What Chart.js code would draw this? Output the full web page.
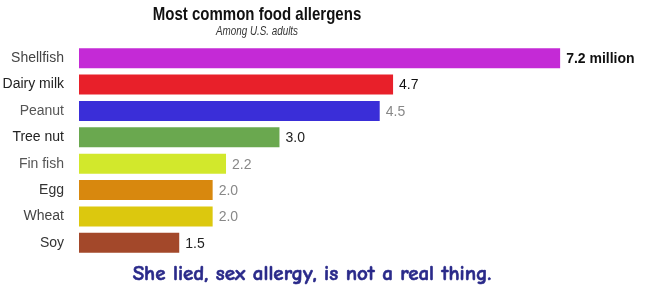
<!DOCTYPE html>
<html>
<head>
<meta charset="utf-8">
<script src="https://cdn.jsdelivr.net/npm/chart.js@4/dist/chart.umd.min.js"></script>
<style>
  html, body { margin: 0; padding: 0; background: #fff; }
  #wrap { position: relative; width: 648px; height: 288px; overflow: hidden; }
  #c { position: absolute; left: 0; top: 0; }
  .title { position: absolute; left: 0; width: 514px; text-align: center; top: 3px;
    font-family: "Liberation Sans", Arial, sans-serif; font-weight: bold;
    font-size: 19px; color: #111; transform: scaleX(0.79); transform-origin: 257px 0; }
  .sub { position: absolute; left: 0; width: 514px; text-align: center; top: 24px;
    font-family: "Liberation Sans", Arial, sans-serif; font-style: italic;
    font-size: 12px; color: #333; transform: scaleX(0.82); transform-origin: 257px 0; }
  .caption { position: absolute; left: 0; width: 624px; text-align: center; top: 261px;
    font-family: "Comic Sans MS", "Comic Neue", "DejaVu Sans", sans-serif; font-weight: 700;
    font-size: 21px; color: #2a2a8a; -webkit-text-stroke: 0.6px #2a2a8a; }
</style>
</head>
<body>
<div id="wrap">
  <canvas id="c" width="648" height="288"></canvas>
  <div class="title">Most common food allergens</div>
  <div class="sub">Among U.S. adults</div>
  <div class="caption">She lied, sex allergy, is not a real thing.</div>
</div>
<script>
const categories = ["Shellfish", "Dairy milk", "Peanut", "Tree nut", "Fin fish", "Egg", "Wheat", "Soy"];
const values = [7.2, 4.7, 4.5, 3.0, 2.2, 2.0, 2.0, 1.5];
const valueLabels = ["7.2 million", "4.7", "4.5", "3.0", "2.2", "2.0", "2.0", "1.5"];

const barColors = ["#c42ad6", "#e8202a", "#3a2ed8", "#6aa84f", "#d2e82c", "#d8880e", "#dcc80e", "#a3482a"];
const valueColors = ["#111", "#111", "#888", "#222", "#888", "#888", "#888", "#222"];
const tickColors = ["#444", "#222", "#555", "#222", "#555", "#333", "#444", "#333"];

const valueLabelPlugin = {
  id: 'valueLabels',
  afterDatasetsDraw(chart) {
    const ctx = chart.ctx;
    const meta = chart.getDatasetMeta(0);
    ctx.save();
    ctx.textBaseline = 'middle';
    ctx.textAlign = 'left';
    meta.data.forEach((bar, i) => {
      ctx.font = (i === 0 ? 'bold ' : '') + '14px "Liberation Sans", Arial, sans-serif';
      ctx.fillStyle = valueColors[i];
      ctx.fillText(valueLabels[i], bar.x + 6, bar.y + 1);
    });
    ctx.restore();
  }
};

new Chart(document.getElementById('c'), {
  type: 'bar',
  data: {
    labels: categories,
    datasets: [{
      data: values,
      backgroundColor: barColors,
      borderWidth: 0,
      barPercentage: 0.76,
      categoryPercentage: 1.0
    }]
  },
  options: {
    indexAxis: 'y',
    responsive: false,
    animation: false,
    devicePixelRatio: 1,
    layout: { padding: { top: 45, bottom: 32, left: 0, right: 1 } },
    plugins: { legend: { display: false }, tooltip: { enabled: false }, title: { display: false } },
    scales: {
      x: { display: false, min: 0, max: 8.5 },
      y: {
        grid: { display: false },
        border: { display: false },
        afterFit(scale) { scale.width = 79; },
        ticks: {
          padding: 7,
          color: (c) => tickColors[c.index],
          font: { family: '"Liberation Sans", Arial, sans-serif', size: 14 }
        }
      }
    }
  },
  plugins: [valueLabelPlugin]
});
</script>
</body>
</html>
